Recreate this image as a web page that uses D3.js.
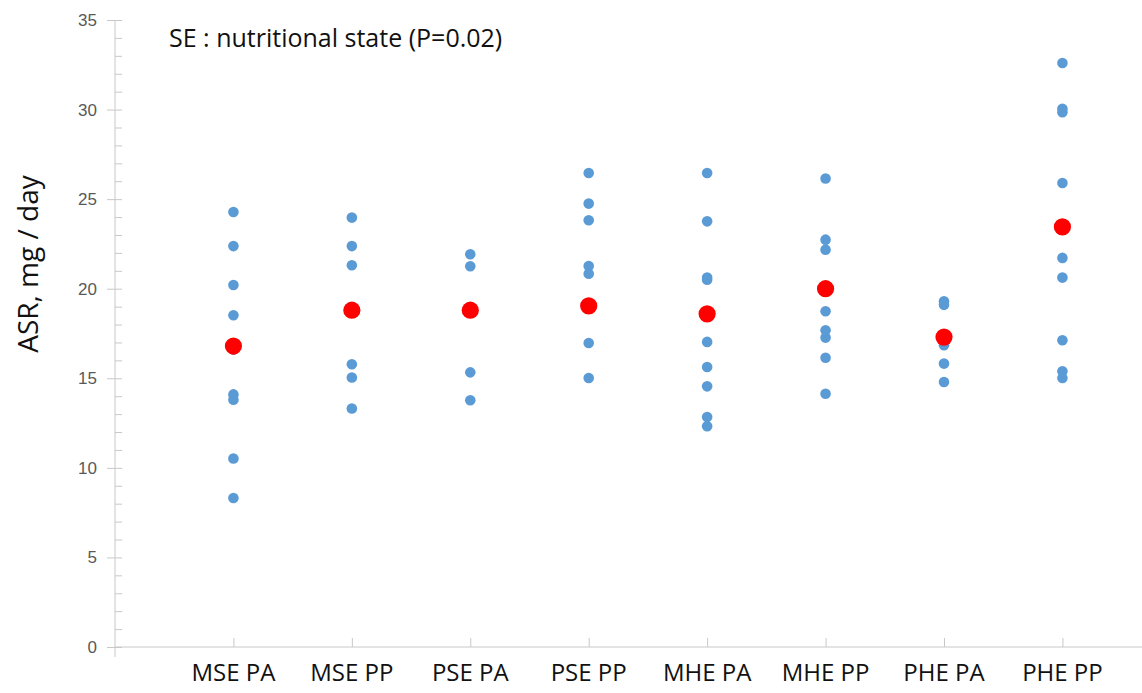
<!DOCTYPE html>
<html>
<head>
<meta charset="utf-8">
<script src="https://cdn.jsdelivr.net/npm/d3@7"></script>
<style>
  body { margin: 0; background: #fff; }
  svg { display: block; font-family: "Open Sans", sans-serif; }
</style>
</head>
<body>
<div id="chart"></div>
<script>
const categories = ["MSE PA", "MSE PP", "PSE PA", "PSE PP", "MHE PA", "MHE PP", "PHE PA", "PHE PP"];

// individual values per group
const msePA = [24.28, 22.38, 20.21, 18.52, 16.6, 14.1, 13.8, 10.52, 8.32];
const msePP = [23.97, 22.38, 21.31, 15.78, 15.04, 13.31];
const psePA = [21.92, 21.25, 15.33, 13.77];
const psePP = [26.46, 24.75, 23.82, 21.27, 20.84, 16.97, 15.02];
const mhePA = [26.46, 23.76, 20.62, 20.5, 17.03, 15.63, 14.55, 12.84, 12.32];
const mhePP = [26.15, 22.74, 22.18, 18.74, 17.68, 17.27, 16.15, 14.14];
const phePA = [19.3, 19.1, 16.84, 15.82, 14.79];
const phePP = [32.6, 30.05, 29.85, 25.9, 21.72, 20.62, 17.12, 15.39, 15.02];
const groups = [msePA, msePP, psePA, psePP, mhePA, mhePP, phePA, phePP];

const means = [16.8, 18.8, 18.8, 19.04, 18.6, 20.0, 17.3, 23.45];

const yTicks = [0, 5, 10, 15, 20, 25, 30, 35];
const annotation = "SE : nutritional state (P=0.02)";
const yTitle = "ASR, mg / day";

const W = 1142, H = 693;
const svg = d3.select("#chart").append("svg").attr("width", W).attr("height", H);

const plotLeft = 115, plotTop = 20, plotBottom = 647;
const x = d3.scaleLinear().domain([0, 8.672]).range([plotLeft, W]);
const y = d3.scaleLinear().domain([0, 35]).range([plotBottom, plotTop]);

const axisColor = "#c8c8c8";

// minor ticks (inside)
svg.append("g")
  .attr("transform", `translate(${plotLeft},0)`)
  .call(d3.axisRight(y).tickValues(d3.range(0, 36, 1)).tickSize(7).tickFormat(""))
  .call(g => g.select(".domain").remove())
  .call(g => g.selectAll("line").attr("stroke", axisColor));

// y axis with major ticks
svg.append("g")
  .attr("transform", `translate(${plotLeft},0)`)
  .call(d3.axisLeft(y).tickValues(yTicks).tickSize(8).tickPadding(10).tickSizeOuter(0))
  .call(g => g.select(".domain").remove())
  .call(g => g.selectAll("line").attr("stroke", axisColor))
  .call(g => g.selectAll("text").attr("fill", "#595959").style("font-size", "17px"));

// y axis line (extends a bit below x axis)
svg.append("line")
  .attr("x1", plotLeft).attr("x2", plotLeft)
  .attr("y1", plotTop).attr("y2", plotBottom + 10)
  .attr("stroke", axisColor);

// x axis
svg.append("g")
  .attr("transform", `translate(0,${plotBottom})`)
  .call(d3.axisTop(x).tickValues(d3.range(1, categories.length + 1)).tickSize(9).tickFormat(""))
  .call(g => g.select(".domain").remove())
  .call(g => g.selectAll("line").attr("stroke", axisColor));

svg.append("line")
  .attr("x1", plotLeft).attr("x2", W)
  .attr("y1", plotBottom).attr("y2", plotBottom)
  .attr("stroke", axisColor);

svg.append("g")
  .selectAll("text")
  .data(categories)
  .join("text")
  .attr("x", (d, i) => x(i + 1))
  .attr("y", 681)
  .attr("text-anchor", "middle")
  .attr("fill", "#111")
  .style("font-size", "24px")
  .text(d => d);

// individual points
const flat = groups.flatMap((vals, i) => vals.map(v => ({ i, v })));
svg.append("g")
  .selectAll("circle")
  .data(flat)
  .join("circle")
  .attr("cx", d => x(d.i + 1))
  .attr("cy", d => y(d.v))
  .attr("r", 5.3)
  .attr("fill", "#5b9bd5");

// group means
svg.append("g")
  .selectAll("circle")
  .data(means)
  .join("circle")
  .attr("cx", (d, i) => x(i + 1))
  .attr("cy", d => y(d))
  .attr("r", 8.6)
  .attr("fill", "#ff0000");

// axis title
svg.append("text")
  .attr("transform", `translate(38,264) rotate(-90)`)
  .attr("text-anchor", "middle")
  .attr("fill", "#111")
  .style("font-size", "28px")
  .text(yTitle);

svg.append("text")
  .attr("x", 169)
  .attr("y", 47)
  .attr("fill", "#111")
  .style("font-size", "25px")
  .text(annotation);
</script>
</body>
</html>
